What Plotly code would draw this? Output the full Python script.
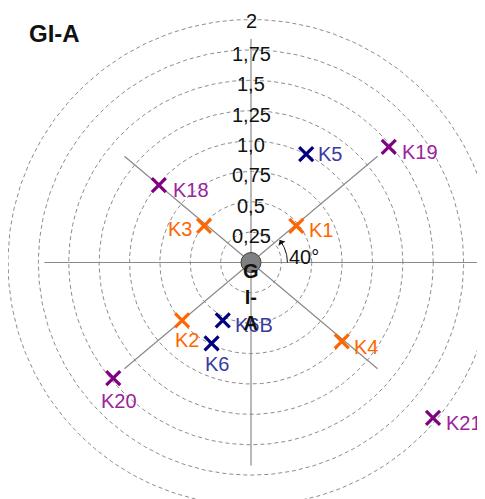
import numpy as np
import plotly.graph_objects as go

# ---------------- data ----------------
title_text = "GI-A"
ring_values = [0.25, 0.5, 0.75, 1.0, 1.25, 1.5, 1.75, 2.0]
ring_labels = ["0,25", "0,5", "0,75", "1,0", "1,25", "1,5", "1,75", "2"]
spoke_angles = [0, 40, 90, 140, 180, 220, 270, 320]
spoke_lengths = [2.2, 1.36, 1.84, 1.36, 1.70, 1.36, 1.67, 1.36]

point_names = ["K1", "K2", "K3", "K4", "K5", "K6", "K6B", "K18", "K19", "K20", "K21"]
point_r = [0.48, 0.74, 0.49, 0.99, 1.00, 0.74, 0.53, 0.99, 1.48, 1.48, 1.97]
point_theta = [39, 220, 142, 319, 63, 244, 244, 140, 40, 220, 319.5]
point_group = ["A", "A", "A", "A", "B", "B", "B", "C", "C", "C", "C"]

angle_marker_deg = 40
angle_label = "40°"
center_label = "G<br>I-<br>A"

# ---------------- styles ----------------
group_marker_color = {"A": "#FF6600", "B": "#000080", "C": "#800080"}
group_text_color = {"A": "#FF6600", "B": "#3A3A9E", "C": "#9C239C"}
# label placement (anchor, x offset px, y offset px downwards)
label_style = {
    "K1": ("left", 11, 4), "K2": ("center", 5, 20), "K3": ("right", -10, 3),
    "K4": ("left", 10, 6), "K5": ("left", 10, 0), "K6": ("center", 5, 21),
    "K6B": ("left", 10, 5), "K18": ("left", 12, 5), "K19": ("left", 11, 5),
    "K20": ("center", 6, 23), "K21": ("left", 11, 5),
}

# ---------------- geometry ----------------
PAGE_OFF = 8           # browser body margin
W, H = 485 - PAGE_OFF, 499 - PAGE_OFF
scale = 121.5          # px per unit
cx, cy = 251 - PAGE_OFF, 262.5 - PAGE_OFF
xr = [-cx / scale, (W - cx) / scale]
yr = [-(H - cy) / scale, cy / scale]

FONT = "Liberation Sans, Arial, sans-serif"
FS = 20
fig = go.Figure()

# rings
t = np.linspace(0, 2 * np.pi, 361)
for rv in ring_values:
    fig.add_trace(go.Scatter(
        x=rv * np.cos(t), y=rv * np.sin(t), mode="lines",
        line=dict(color="#8c8c8c", width=1, dash="4px,3px"),
        hoverinfo="skip", showlegend=False))

# spokes
for ang, ln in zip(spoke_angles, spoke_lengths):
    a = np.deg2rad(ang)
    fig.add_trace(go.Scatter(
        x=[0, ln * np.cos(a)], y=[0, ln * np.sin(a)], mode="lines",
        line=dict(color="#8a8a8a", width=1.2),
        hoverinfo="skip", showlegend=False))

# angle arc
arc_r = 0.30
ta = np.deg2rad(np.linspace(0, angle_marker_deg - 2, 40))
fig.add_trace(go.Scatter(
    x=arc_r * np.cos(ta), y=arc_r * np.sin(ta), mode="lines",
    line=dict(color="#111111", width=1),
    hoverinfo="skip", showlegend=False))
a_tip = np.deg2rad(angle_marker_deg - 2)
a_tail = np.deg2rad(angle_marker_deg - 14)
fig.add_annotation(
    x=arc_r * np.cos(a_tip), y=arc_r * np.sin(a_tip),
    ax=arc_r * np.cos(a_tail), ay=arc_r * np.sin(a_tail),
    xref="x", yref="y", axref="x", ayref="y",
    text="", showarrow=True, arrowhead=1, arrowsize=1.4, arrowwidth=1,
    arrowcolor="#111111")
fig.add_annotation(x=53 / scale, y=6 / scale, text=angle_label,
                   showarrow=False, xanchor="center", yanchor="middle",
                   font=dict(family=FONT, size=FS, color="#111111"))

# centre disc
fig.add_trace(go.Scatter(
    x=[0], y=[0], mode="markers",
    marker=dict(size=20, color="#808080", line=dict(color="#404040", width=1)),
    hoverinfo="skip", showlegend=False))

# points per group
names = np.array(point_names)
r = np.array(point_r)
th = np.deg2rad(np.array(point_theta))
grp = np.array(point_group)
px_ = r * np.cos(th)
py_ = r * np.sin(th)
for g in ["A", "B", "C"]:
    m = grp == g
    fig.add_trace(go.Scatter(
        x=px_[m], y=py_[m], mode="markers",
        marker=dict(symbol="x-thin", size=14,
                    line=dict(color=group_marker_color[g], width=3.2)),
        hoverinfo="skip", showlegend=False, cliponaxis=False))

# point labels
for nm, x0, y0, g in zip(point_names, px_, py_, point_group):
    anc, dx, dy = label_style[nm]
    fig.add_annotation(x=x0, y=y0, text=nm, showarrow=False,
                       xanchor=anc, yanchor="middle", xshift=dx, yshift=-dy,
                       font=dict(family=FONT, size=FS, color=group_text_color[g]))

# ring labels
for rv, lab in zip(ring_values, ring_labels):
    fig.add_annotation(x=0, y=rv, text=lab, showarrow=False,
                       xanchor="center", yanchor="middle",
                       yshift=(-1 if rv == ring_values[-1] else -4),
                       font=dict(family=FONT, size=FS, color="#111111"))

# centre label
fig.add_annotation(x=0, y=-34 / scale, text=center_label, showarrow=False,
                   xanchor="center", yanchor="middle",
                   font=dict(family=FONT, size=FS, color="#111111", weight="bold"))

# title
fig.add_annotation(x=(27 - PAGE_OFF) / W, y=1 - (33 - PAGE_OFF) / H,
                   xref="paper", yref="paper",
                   text=f"<b>{title_text}</b>", showarrow=False,
                   xanchor="left", yanchor="middle",
                   font=dict(family=FONT, size=24, color="#111111"))

fig.update_xaxes(range=xr, visible=False, fixedrange=True)
fig.update_yaxes(range=yr, visible=False, fixedrange=True)
fig.update_layout(width=W, height=H, margin=dict(l=0, r=0, t=0, b=0),
                  plot_bgcolor="white", paper_bgcolor="white")

fig.write_html("out.html")
